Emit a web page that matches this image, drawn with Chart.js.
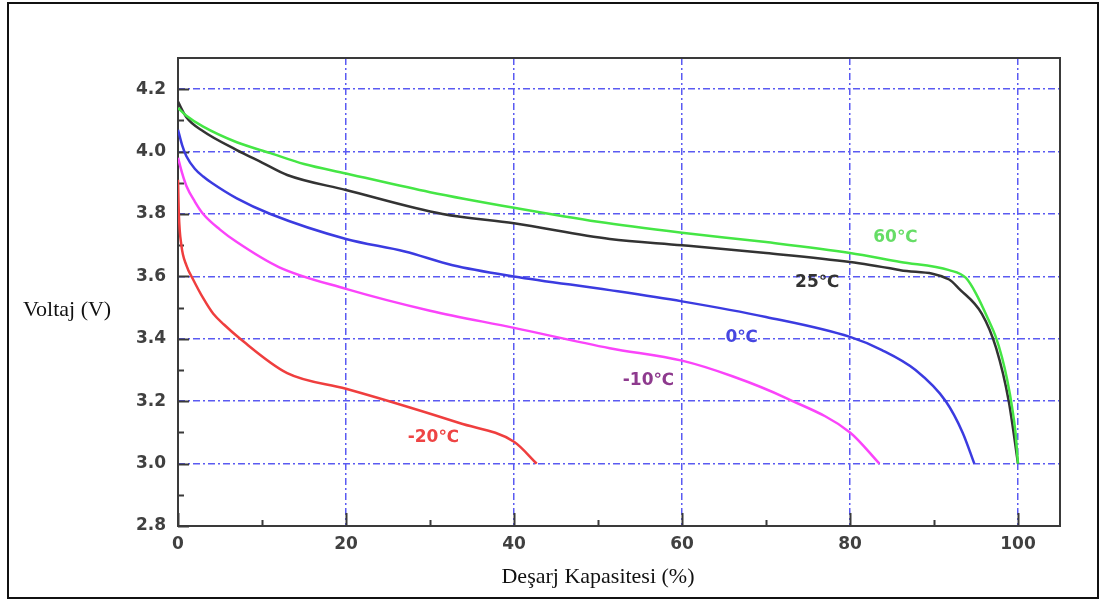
<!DOCTYPE html>
<html lang="tr">
<head>
    <meta charset="UTF-8">
    <title>Deşarj Eğrileri</title>
    <style>
        body { margin: 0; background: #fff; }
        #kutu { position: relative; width: 1105px; height: 601px; }
        #cerceve { position: absolute; left: 7px; top: 2px; width: 1088px; height: 593px; border: 2px solid #111; pointer-events: none; }
    </style>
</head>
<body>
    <div id="kutu">
        <canvas id="grafik" width="1105" height="601"></canvas>
        <div id="cerceve"></div>
    </div>

<script src="https://cdn.jsdelivr.net/npm/chart.js"></script>
<script>
// Kapasite (%) ve voltaj (V) değerleri
const kap60 = [0, 1, 3, 7, 11, 15, 20, 30, 40, 50, 60, 70, 80, 86, 91.8, 93.8, 95, 96.5, 97.3, 98.1, 98.7, 99.3, 99.7, 100];
const volt60 = [4.14, 4.115, 4.08, 4.03, 3.995, 3.96, 3.93, 3.87, 3.82, 3.775, 3.74, 3.71, 3.675, 3.646, 3.62, 3.595, 3.545, 3.46, 3.41, 3.34, 3.27, 3.18, 3.1, 3.0];

const kap25 = [0, 1, 3, 7, 10, 13, 20, 31.5, 40, 51.4, 60, 70, 80, 86, 91.8, 93, 95.7, 97.4, 98.9, 100];
const volt25 = [4.16, 4.11, 4.065, 4.005, 3.965, 3.925, 3.877, 3.80, 3.77, 3.72, 3.70, 3.675, 3.646, 3.62, 3.59, 3.56, 3.48, 3.37, 3.20, 3.0];

const kap0 = [0, 0.5, 1, 2, 3, 4, 7, 11, 20, 27, 32.7, 40, 51.4, 60, 70, 80, 83.8, 87.8, 91.4, 93.4, 94.8];
const volt0 = [4.07, 4.02, 3.985, 3.945, 3.92, 3.90, 3.85, 3.80, 3.72, 3.68, 3.636, 3.60, 3.556, 3.52, 3.47, 3.406, 3.364, 3.30, 3.20, 3.10, 3.0];

const kapM10 = [0, 0.5, 1, 2, 3, 5, 7, 12, 20, 30, 40, 51.4, 60, 66, 72.4, 80, 83.5];
const voltM10 = [3.98, 3.93, 3.89, 3.84, 3.80, 3.75, 3.71, 3.63, 3.56, 3.49, 3.435, 3.37, 3.33, 3.28, 3.21, 3.10, 3.0];

const kapM20 = [0, 0.1, 0.4, 1, 1.8, 3, 4.2, 5.5, 7.4, 13, 20, 27.6, 33.5, 40, 42.7];
const voltM20 = [3.91, 3.80, 3.70, 3.635, 3.59, 3.53, 3.48, 3.445, 3.40, 3.29, 3.24, 3.18, 3.13, 3.07, 3.0];

const etiketler = ["60℃", "25℃", "0℃", "-10℃", "-20℃"];

function noktalar(xs, ys) {
    let sonuc = [];
    for (let i = 0; i < xs.length; i++) {
        sonuc.push({ x: xs[i], y: ys[i] });
    }
    return sonuc;
}

function seri(xs, ys, renk, etiket, etiketRenk, etiketYer) {
    return {
        label: etiket,
        data: noktalar(xs, ys),
        borderColor: renk,
        borderWidth: 2.5,
        pointRadius: 0,
        cubicInterpolationMode: 'monotone',
        etiketRenk: etiketRenk,
        etiketYer: etiketYer
    };
}

const IZGARA = '#5a5af2';

// çerçeve, iç tikler, eğri etiketleri ve eksen başlıkları
const cizimEklentisi = {
    id: 'cizimEklentisi',
    beforeDatasetsDraw(chart) {
        const ctx = chart.ctx;
        const a = chart.chartArea;
        const sx = chart.scales.x;
        const sy = chart.scales.y;
        ctx.save();
        ctx.strokeStyle = '#3a3a3a';
        ctx.lineWidth = 2;
        ctx.strokeRect(a.left, a.top, a.right - a.left, a.bottom - a.top);

        ctx.beginPath();
        // y ekseni tikleri
        for (let v = 2.8; v < 4.25; v += 0.1) {
            const y = Math.round(sy.getPixelForValue(v)) + 0.5;
            const major = Math.abs(Math.round(v * 10) % 2) === 0;
            ctx.moveTo(a.left, y);
            ctx.lineTo(a.left + (major ? 11 : 6), y);
        }
        // x ekseni tikleri
        for (let v = 0; v <= 100; v += 10) {
            const x = Math.round(sx.getPixelForValue(v)) + 0.5;
            const major = v % 20 === 0;
            ctx.moveTo(x, a.bottom);
            ctx.lineTo(x, a.bottom - (major ? 13 : 6));
        }
        ctx.stroke();
        ctx.restore();
    },
    afterDatasetsDraw(chart) {
        const ctx = chart.ctx;
        const sx = chart.scales.x;
        const sy = chart.scales.y;
        ctx.save();
        ctx.font = 'bold 17px "DejaVu Sans"';
        ctx.textAlign = 'center';
        ctx.textBaseline = 'middle';
        chart.data.datasets.forEach(ds => {
            ctx.fillStyle = ds.etiketRenk;
            ctx.fillText(ds.label, sx.getPixelForValue(ds.etiketYer[0]), sy.getPixelForValue(ds.etiketYer[1]));
        });

        ctx.fillStyle = '#111';
        ctx.font = '22px "Liberation Serif"';
        ctx.textAlign = 'left';
        ctx.textBaseline = 'alphabetic';
        ctx.fillText('Voltaj (V)', 23, 316);
        ctx.textAlign = 'center';
        ctx.fillText('Deşarj Kapasitesi (%)', 598, 583);
        ctx.restore();
    }
};

const ctx = document.getElementById('grafik').getContext('2d');

new Chart(ctx, {
    type: 'line',
    data: {
        datasets: [
            seri(kap60, volt60, '#45e645', etiketler[0], '#66dd66', [85.4, 3.723]),
            seri(kap25, volt25, '#333333', etiketler[1], '#333333', [76.1, 3.579]),
            seri(kap0, volt0, '#3b3be0', etiketler[2], '#4646e0', [67.1, 3.403]),
            seri(kapM10, voltM10, '#fa44fa', etiketler[3], '#8e3a8e', [56.0, 3.265]),
            seri(kapM20, voltM20, '#ef3e3e', etiketler[4], '#ee4444', [30.4, 3.085])
        ]
    },
    options: {
        responsive: false,
        animation: false,
        devicePixelRatio: 1,
        layout: { padding: { top: 58, right: 45, left: 0, bottom: 0 } },
        plugins: {
            legend: { display: false },
            tooltip: { enabled: false }
        },
        scales: {
            x: {
                type: 'linear',
                min: 0,
                max: 105,
                afterFit: s => { s.height = 75; },
                ticks: {
                    stepSize: 20,
                    includeBounds: false,
                    padding: 8,
                    color: '#404040',
                    font: { family: 'DejaVu Sans', size: 17, weight: 'bold' }
                },
                grid: {
                    drawTicks: false,
                    lineWidth: 1.5,
                    color: c => (c.tick && c.tick.value === 0) ? 'rgba(0,0,0,0)' : IZGARA
                },
                border: { display: false, dash: [7, 3, 2, 3] }
            },
            y: {
                type: 'linear',
                min: 2.8,
                max: 4.3,
                afterFit: s => { s.width = 178; },
                ticks: {
                    stepSize: 0.2,
                    includeBounds: false,
                    padding: 12,
                    color: '#404040',
                    font: { family: 'DejaVu Sans', size: 17, weight: 'bold' },
                    callback: v => v.toFixed(1)
                },
                grid: {
                    drawTicks: false,
                    lineWidth: 1.5,
                    color: c => (c.tick && Math.abs(c.tick.value - 2.8) < 0.001) ? 'rgba(0,0,0,0)' : IZGARA
                },
                border: { display: false, dash: [7, 3, 2, 3] }
            }
        }
    },
    plugins: [cizimEklentisi]
});
</script>
</body>
</html>
